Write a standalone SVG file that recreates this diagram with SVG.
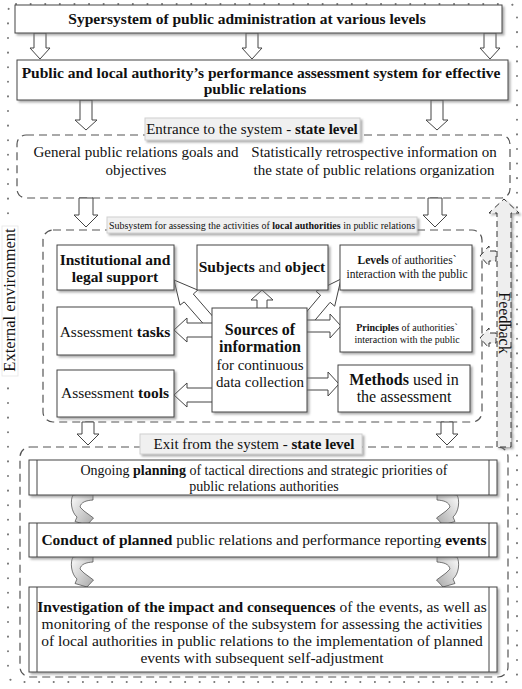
<svg xmlns="http://www.w3.org/2000/svg" width="522" height="689" viewBox="0 0 522 689">
<defs>
<style>
.t{font-family:"Liberation Serif","Times New Roman",serif;fill:#111;text-anchor:middle}
.b{font-weight:bold}
.box{fill:#fff;stroke:#444;stroke-width:1}
.lbl{fill:#f0f0f0;stroke:#d0d0d0;stroke-width:1}
.dash{fill:none;stroke:#555;stroke-width:1.2;stroke-dasharray:8 5}
.arr{fill:#fff;stroke:#444;stroke-width:1}
.fb{fill:#eeeeee;stroke:#333;stroke-width:1;stroke-dasharray:6 4}
.curl{fill:url(#cg);stroke:#555;stroke-width:0.8}
</style>
<filter id="sh" x="-10%" y="-10%" width="130%" height="140%">
<feDropShadow dx="2" dy="2" stdDeviation="1.2" flood-color="#777" flood-opacity="0.6"/>
</filter>
<linearGradient id="cg" x1="0" y1="0" x2="1" y2="1">
<stop offset="0" stop-color="#ffffff"/>
<stop offset="1" stop-color="#a8a8a8"/>
</linearGradient>
<path id="curl" d="M73,495 L93,492.5 L93,500 C86,500.5 81,502 80,507 L84,511 L93.5,518 L87,525 L75,521.5 L77,517 C71,512 70,500 73,495 Z"/>
</defs>
<rect width="522" height="689" fill="#fff"/>

<!-- outer external environment border -->
<g id="external">
<rect x="8" y="4" width="509" height="678" rx="8" fill="none" stroke="#777" stroke-width="2" stroke-linecap="round" stroke-dasharray="0.1 14.5"/>
<rect x="2" y="226" width="16" height="150" fill="#fff" stroke="#e6e6e6" stroke-width="0.8"/>
<text class="t" transform="translate(15,300) rotate(-90)" font-size="16.5">External environment</text>
</g>

<!-- region frames -->
<g id="entrance-frame">
<rect class="dash" x="17" y="135" width="493" height="63" rx="9"/>
</g>
<g id="subsystem-frame">
<rect class="dash" x="43" y="230" width="439" height="192" rx="10"/>
</g>
<g id="exit-frame">
<rect class="dash" x="20" y="447" width="488" height="230" rx="10"/>
</g>

<g id="connectors">
<!-- super -> system -->
<path class="arr" d="M34,33 V48 H30 L40,59 L50,48 H46 V33 Z"/>
<path class="arr" d="M246,33 V48 H242 L252,59 L262,48 H258 V33 Z"/>
<path class="arr" d="M484,33 V48 H480 L490,59 L500,48 H496 V33 Z"/>
<!-- system -> entrance -->
<path class="arr" d="M80,100 V120 H75 L86,130 L97,120 H92 V100 Z"/>
<path class="arr" d="M431,100 V120 H426 L437,130 L448,120 H443 V100 Z"/>
<!-- entrance -> subsystem -->
<path class="arr" d="M79,198 V215 H74 L86,227 L98,215 H93 V198 Z"/>
<path class="arr" d="M428,198 V215 H423 L435,227 L447,215 H442 V198 Z"/>
<!-- subsystem -> exit -->
<path class="arr" d="M82,422 V434 H77 L88,445 L99,434 H94 V422 Z"/>
<path class="arr" d="M441,422 V434 H436 L447,445 L458,434 H453 V422 Z"/>
<!-- inside subsystem -->
<path class="arr" d="M222.5,327.6 L193.3,294.0 L197.8,290.1 L174,280 L180.0,305.1 L184.2,301.9 L213.5,335.4 Z"/>
<path class="arr" d="M257,312 V300 H251 L262,290 L273,300 H267 V312 Z"/>
<path class="arr" d="M214,323 H187 V318 L174,330 L187,342 V337 H214 Z"/>
<path class="arr" d="M214,388 H187 V383 L174,395 L187,407 V402 H214 Z"/>
<path class="arr" d="M305.4,331.6 L330.1,302.3 L334.7,306.2 L341,279 L316.0,291.3 L320.6,295.2 L296.3,324.2 Z"/>
<path class="arr" d="M305,320 H330 V314 L341,326 L330,338 V332 H305 Z"/>
<path class="arr" d="M305,378 H328 V372 L339,384 L328,396 V390 H305 Z"/>
<!-- feedback -->
<path class="fb" d="M497,447 V213 H489 L504,199 L519,213 H511 V447 Z" filter="url(#sh)"/>
<path class="fb" d="M496,251 H489 V246 L480,256 L489,266 V261 H496 Z"/>
<path class="fb" d="M496,333 H489 V328 L480,338 L489,348 V343 H496 Z"/>
<text class="t" transform="translate(499,323) rotate(90)" font-size="16">Feedback</text>
<!-- curled arrows -->
<use href="#curl" class="curl"/>
<use href="#curl" class="curl" transform="translate(530,0) scale(-1,1)"/>
<use href="#curl" class="curl" transform="translate(0,62)"/>
<use href="#curl" class="curl" transform="translate(530,62) scale(-1,1)"/>
</g>

<!-- labels of regions -->
<g id="entrance-label">
<rect class="lbl" x="145" y="118" width="215" height="22" filter="url(#sh)"/>
<text class="t" x="252" y="134" font-size="15">Entrance to the system - <tspan class="b">state level</tspan></text>
</g>
<g id="subsystem-label">
<rect class="lbl" x="107" y="217" width="310" height="16" filter="url(#sh)"/>
<text class="t" transform="translate(262,228.5) scale(0.95,1)" font-size="10.5">Subsystem for assessing the activities of <tspan class="b">local authorities</tspan> in public relations</text>
</g>
<g id="exit-label">
<rect class="lbl" x="140" y="434" width="222" height="20" filter="url(#sh)"/>
<text class="t" x="254" y="449" font-size="15">Exit from the system - <tspan class="b">state level</tspan></text>
</g>

<g id="supersystem">
<rect class="box" x="15" y="5" width="487" height="28" filter="url(#sh)"/>
<text class="t b" x="247" y="24" font-size="15.5">Sypersystem of public administration at various levels</text>
</g>
<g id="assessment-system">
<rect class="box" x="17" y="60" width="491" height="40" filter="url(#sh)"/>
<text class="t b" x="261" y="78" font-size="15.5">Public and local authority’s performance assessment system for effective</text>
<text class="t b" x="255" y="94" font-size="15.5">public relations</text>
</g>
<g id="goals">
<text class="t" x="136" y="157" font-size="15">General public relations goals and</text>
<text class="t" x="136" y="175" font-size="15">objectives</text>
</g>
<g id="statistics">
<text class="t" x="374" y="157" font-size="15">Statistically retrospective information on</text>
<text class="t" x="374" y="175" font-size="15">the state of public relations organization</text>
</g>

<g id="institutional">
<rect class="box" x="57" y="245" width="117" height="45" filter="url(#sh)"/>
<text class="t b" x="115" y="265" font-size="15.5">Institutional and</text>
<text class="t b" x="115" y="282" font-size="15.5">legal support</text>
</g>
<g id="tasks">
<rect class="box" x="57" y="307" width="117" height="48" filter="url(#sh)"/>
<text class="t" x="115" y="337" font-size="15.5">Assessment <tspan class="b">tasks</tspan></text>
</g>
<g id="tools">
<rect class="box" x="57" y="370" width="117" height="47" filter="url(#sh)"/>
<text class="t" x="115" y="398" font-size="15.5">Assessment <tspan class="b">tools</tspan></text>
</g>
<g id="subjects">
<rect class="box" x="197" y="245" width="131" height="45" filter="url(#sh)"/>
<text class="t" x="262" y="272" font-size="15.5"><tspan class="b">Subjects</tspan> and <tspan class="b">object</tspan></text>
</g>
<g id="sources">
<rect class="box" x="212" y="308" width="95" height="104" filter="url(#sh)"/>
<text class="t b" x="260" y="335" font-size="16">Sources of</text>
<text class="t b" x="260" y="352" font-size="16">information</text>
<text class="t" x="260" y="370" font-size="15">for continuous</text>
<text class="t" x="260" y="387" font-size="15">data collection</text>
</g>
<g id="levels">
<rect class="box" x="340" y="245" width="132" height="45" filter="url(#sh)"/>
<text class="t" x="407" y="264" font-size="11.5"><tspan class="b">Levels</tspan> of authorities`</text>
<text class="t" x="407" y="278" font-size="11.5">interaction with the public</text>
</g>
<g id="principles">
<rect class="box" x="340" y="307" width="132" height="45" filter="url(#sh)"/>
<text class="t" x="407" y="331" font-size="10"><tspan class="b">Principles</tspan> of authorities`</text>
<text class="t" x="407" y="343" font-size="10">interaction with the public</text>
</g>
<g id="methods">
<rect class="box" x="338" y="365" width="132" height="47" filter="url(#sh)"/>
<text class="t" x="404" y="385" font-size="16"><tspan class="b">Methods</tspan> used in</text>
<text class="t" x="404" y="402" font-size="16">the assessment</text>
</g>

<g id="planning">
<rect class="box" x="29" y="460" width="468" height="35" filter="url(#sh)"/>
<line x1="37" y1="460" x2="37" y2="495" stroke="#444"/>
<line x1="489" y1="460" x2="489" y2="495" stroke="#444"/>
<text class="t" x="264" y="475" font-size="14">Ongoing <tspan class="b">planning</tspan> of tactical directions and strategic priorities of</text>
<text class="t" x="264" y="491" font-size="14">public relations authorities</text>
</g>
<g id="conduct">
<rect class="box" x="29" y="523" width="468" height="34" filter="url(#sh)"/>
<line x1="37" y1="523" x2="37" y2="557" stroke="#444"/>
<line x1="489" y1="523" x2="489" y2="557" stroke="#444"/>
<text class="t" x="264" y="545" font-size="15.5"><tspan class="b">Conduct of planned</tspan> public relations and performance reporting <tspan class="b">events</tspan></text>
</g>
<g id="investigation">
<rect class="box" x="29" y="587" width="468" height="85" filter="url(#sh)"/>
<line x1="37" y1="587" x2="37" y2="672" stroke="#444"/>
<line x1="489" y1="587" x2="489" y2="672" stroke="#444"/>
<text class="t" x="262" y="612" font-size="15.5"><tspan class="b">Investigation of the impact and consequences</tspan> of the events, as well as</text>
<text class="t" x="262" y="629" font-size="15.5">monitoring of the response of the subsystem for assessing the activities</text>
<text class="t" x="262" y="646" font-size="15.5">of local authorities in public relations to the implementation of planned</text>
<text class="t" x="262" y="663" font-size="15.5">events with subsequent self-adjustment</text>
</g>
</svg>
